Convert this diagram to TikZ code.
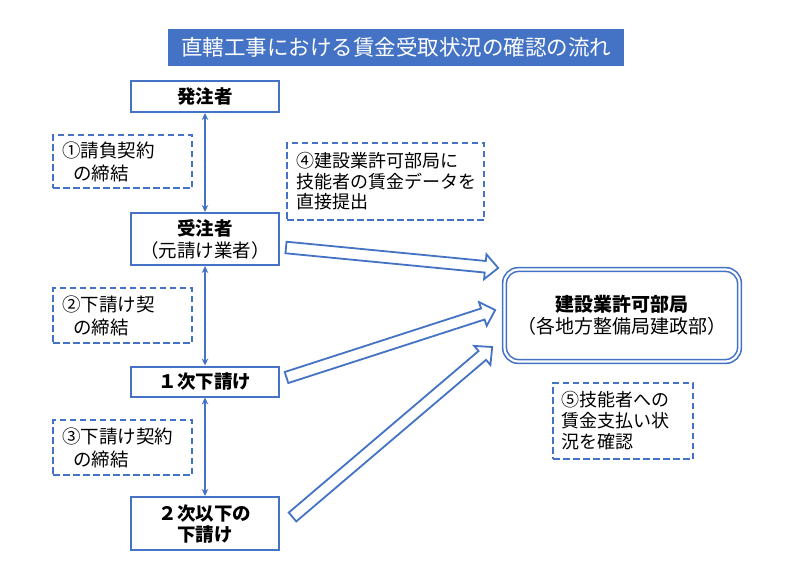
\documentclass[tikz,border=0pt]{standalone}
\usepackage{fontspec}
\setmainfont{Noto Sans CJK JP}
\usetikzlibrary{arrows.meta,calc}
\definecolor{mblue}{HTML}{4472C4}
\newcommand\blockarr[2]{%
  \coordinate (hb) at ($(#2)!13pt!(#1)$);
  \draw[barrow] ($(#1)!5.8pt!90:(#2)$) -- ($(hb)!5.8pt!90:(#2)$) -- ($(hb)!12.5pt!90:(#2)$) -- (#2)
     -- ($(hb)!12.5pt!-90:(#2)$) -- ($(hb)!5.8pt!-90:(#2)$) -- ($(#1)!5.8pt!-90:(#2)$) -- cycle;}
\begin{document}
\begin{tikzpicture}[x=1pt,y=-1pt,
  sbox/.style={draw=mblue, line width=2pt, fill=white, minimum width=148pt, inner sep=0pt, align=center, font=\fontsize{18.5}{22}\selectfont},
  dbox/.style={draw=mblue, line width=2.2pt, dash pattern=on 6.5pt off 3.5pt, inner xsep=9pt, inner ysep=0pt, align=left, font=\fontsize{18.5}{23}\selectfont},
  link/.style={draw=mblue, line width=2pt, {Stealth[length=7pt,width=6.5pt]}-{Stealth[length=7pt,width=6.5pt]}},
  barrow/.style={draw=mblue, line width=1.8pt, fill=white, line join=miter}
]
\useasboundingbox (0,0) rectangle (800,563);
\fill[white] (0,0) rectangle (800,563);

\node[fill=mblue, text=white, minimum width=456pt, minimum height=37pt, inner sep=0pt, font=\fontsize{21.5}{24}\selectfont] (title) at (396,47.5) {直轄工事における賃金受取状況の確認の流れ};

\node[sbox, minimum height=31pt] (hat) at (205,96.5) {\bfseries 発注者};
\node[sbox, minimum height=52pt] (jyu) at (205,239) {{\bfseries 受注者}\\（元請け業者）};
\node[sbox, minimum height=30pt] (sub1) at (205,381.5) {\bfseries １次下請け};
\node[sbox, minimum height=53pt, font=\fontsize{18.5}{21}\selectfont\bfseries] (sub2) at (205,523.5) {２次以下の\\下請け};

\node[dbox, text width=121pt, minimum height=53pt] (c1) at (122.5,161.5) {①請負契約\\\hspace*{11pt}の締結};
\node[dbox, text width=121pt, minimum height=55pt] (c2) at (122.5,315.5) {②下請け契\\\hspace*{11pt}の締結};
\node[dbox, text width=121pt, minimum height=55pt] (c3) at (122.5,447.5) {③下請け契約\\\hspace*{11pt}の締結};
\node[dbox, text width=179pt, minimum height=77pt, font=\fontsize{18}{20.5}\selectfont] (c4) at (385.5,181.5) {④建設業許可部局に\\技能者の賃金データを\\直接提出};
\node[dbox, text width=124pt, inner xsep=8pt, minimum height=76pt, font=\fontsize{18}{21}\selectfont] (c5) at (623,421) {⑤技能者への\\賃金支払い状\\況を確認};

\node[draw=mblue, double=white, double distance=2.2pt, line width=1.6pt, rounded corners=14pt, minimum width=235pt, minimum height=92pt, align=center, font=\fontsize{19}{22}\selectfont] (dept) at (622,315.5) {{\bfseries 建設業許可部局}\\（各地方整備局建政部）};

\draw[link] (hat.south) -- (jyu.north);
\draw[link] (jyu.south) -- (sub1.north);
\draw[link] (sub1.south) -- (sub2.north);

\coordinate (t1) at ($(jyu.east)+(6,8.5)$);
\coordinate (p1) at ($(dept.west)+(-5.5,-47.5)$);
\coordinate (t2) at ($(sub1.east)+(6.5,-4)$);
\coordinate (p2) at ($(dept.west)+(-8.5,-5.5)$);
\coordinate (t3) at ($(sub2.east)+(12.5,-6.5)$);
\coordinate (p3) at ($(dept.west)+(-11.5,31.5)$);
\blockarr{t1}{p1}
\blockarr{t2}{p2}
\blockarr{t3}{p3}
\end{tikzpicture}
\end{document}
